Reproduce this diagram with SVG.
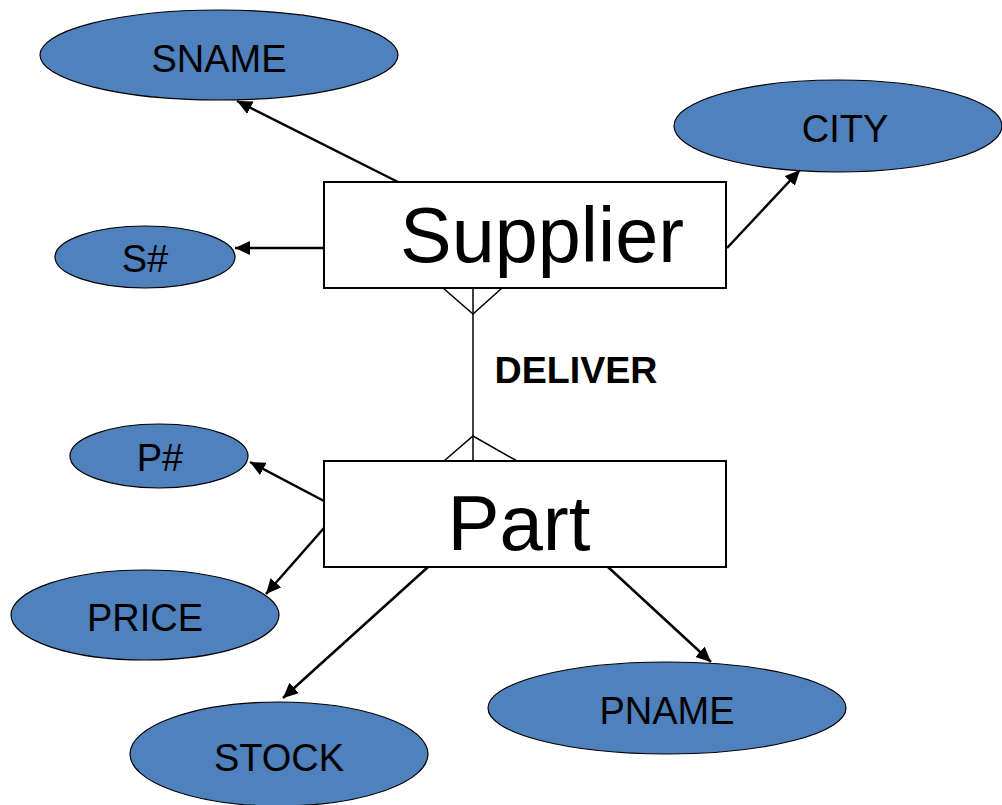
<svg xmlns="http://www.w3.org/2000/svg" width="1002" height="805" viewBox="0 0 1002 805">
<defs>
<marker id="ah" viewBox="0 0 10 10" refX="10" refY="5" markerWidth="15" markerHeight="14" markerUnits="userSpaceOnUse" orient="auto" preserveAspectRatio="none"><path d="M0,0 L10,5 L0,10 Z" fill="#000"/></marker>
<style>
.attr{fill:#4f81bd;stroke:#000;stroke-width:1.2}
.atxt{font-family:"Liberation Sans",Arial,sans-serif;font-size:38px;fill:#000;text-anchor:middle}
.ent{fill:#fff;stroke:#000;stroke-width:2}
.etxt{font-family:"Liberation Sans",Arial,sans-serif;font-size:78px;fill:#000;text-anchor:middle}
.con{stroke:#000;stroke-width:2.5;fill:none;marker-end:url(#ah)}
.rel{stroke:#000;stroke-width:1.5;fill:none}
</style>
</defs>
<rect width="1002" height="805" fill="#fff"/>
<g id="connectors">
<line class="con" x1="398" y1="182" x2="237" y2="101"/>
<line class="con" x1="324" y1="248" x2="235" y2="248"/>
<line class="con" x1="727" y1="248" x2="800" y2="170"/>
<line class="con" x1="324" y1="501" x2="250" y2="462"/>
<line class="con" x1="324" y1="528" x2="266" y2="594"/>
<line class="con" x1="428" y1="567" x2="283" y2="698"/>
<line class="con" x1="608" y1="567" x2="711" y2="662"/>
<g id="deliver">
<line class="rel" x1="473" y1="288" x2="473" y2="461"/>
<polyline class="rel" points="443,288 473,314 502,288"/>
<polyline class="rel" points="444,461 473,436 517,461"/>
<text x="576" y="383" font-family="'Liberation Sans',Arial,sans-serif" font-size="36" font-weight="bold" text-anchor="middle" textLength="163" lengthAdjust="spacingAndGlyphs">DELIVER</text>
</g>
</g>
<g id="supplier"><rect class="ent" x="324" y="182" width="402" height="106"/><text class="etxt" x="542" y="262" textLength="284" lengthAdjust="spacingAndGlyphs">Supplier</text></g>
<g id="part"><rect class="ent" x="324" y="461" width="402" height="106"/><text class="etxt" x="519" y="550">Part</text></g>
<g id="sname"><ellipse class="attr" cx="219" cy="55" rx="179" ry="45"/><text class="atxt" x="219" y="72">SNAME</text></g>
<g id="city"><ellipse class="attr" cx="838" cy="126" rx="164" ry="46"/><text class="atxt" x="845" y="142">CITY</text></g>
<g id="snum"><ellipse class="attr" cx="145" cy="257" rx="90" ry="31"/><text class="atxt" x="145" y="272">S#</text></g>
<g id="pnum"><ellipse class="attr" cx="159" cy="456" rx="89" ry="32"/><text class="atxt" x="160" y="471">P#</text></g>
<g id="price"><ellipse class="attr" cx="145" cy="615" rx="134" ry="45"/><text class="atxt" x="145" y="631">PRICE</text></g>
<g id="stock"><ellipse class="attr" cx="279" cy="754" rx="149" ry="52"/><text class="atxt" x="279" y="771">STOCK</text></g>
<g id="pname"><ellipse class="attr" cx="667" cy="708" rx="179" ry="46"/><text class="atxt" x="667" y="724">PNAME</text></g>
</svg>
